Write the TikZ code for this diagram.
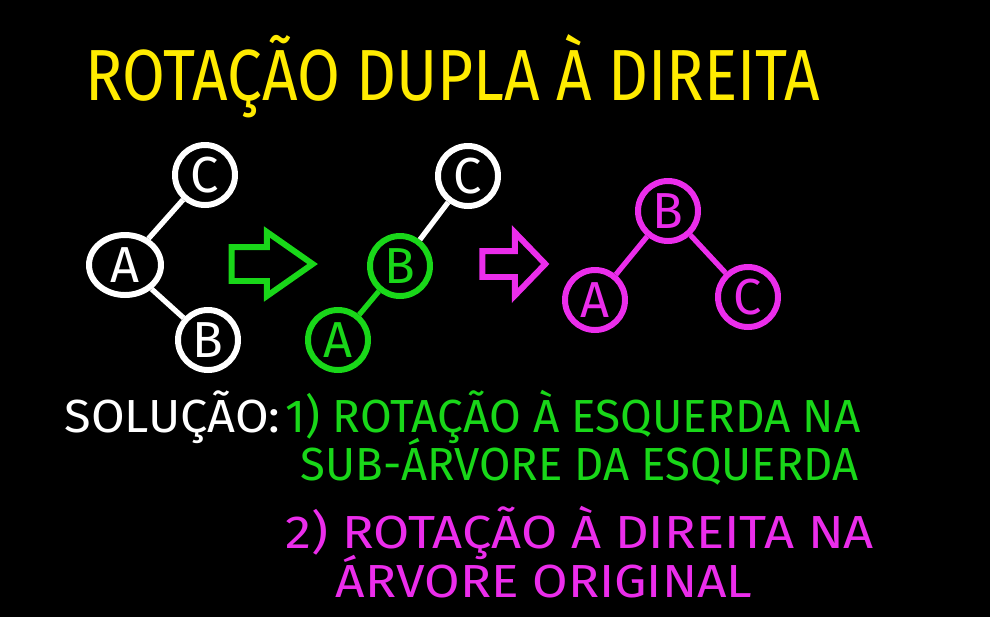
\documentclass[tikz,border=0pt]{standalone}
\usepackage{fontspec}
\setmainfont{Fira Sans}
\usetikzlibrary{positioning,shapes.geometric,shapes.arrows}
\definecolor{chalkyellow}{RGB}{255,235,0}
\definecolor{chalkgreen}{RGB}{25,215,25}
\definecolor{chalkpink}{RGB}{235,45,235}
\newcommand{\handtext}[2]{\scalebox{#1}[1]{#2}}
\tikzset{
  key/.style    = {circle, draw, line width=1.7pt, minimum size=0.6cm, inner sep=0pt, font=\Large},
  wkey/.style   = {key, draw=white, text=white},
  gkey/.style   = {key, draw=chalkgreen, text=chalkgreen},
  pkey/.style   = {key, draw=chalkpink, text=chalkpink},
  link/.style   = {line width=1.5pt},
  bigarrow/.style = {single arrow, draw, line width=1.7pt, inner xsep=0pt, single arrow tip angle=70},
  hand/.style   = {anchor=base west, inner sep=0pt, font=\fontsize{13.2}{16}\selectfont},
}
\begin{document}
\begin{tikzpicture}[x=1cm, y=-1cm]
  \fill[black] (0,0) rectangle (9.9,6.17);
  \useasboundingbox (0,0) rectangle (9.9,6.17);

  % title
  \node[hand, text=chalkyellow, font=\fontsize{20.6}{24}\selectfont] (title) at (0.85,1.00)
    {\handtext{0.857}{ROTAÇÃO DUPLA À DIREITA}};

  % original tree
  \node[wkey] (wc) at (2.05,1.75) {C};
  \node[wkey, ellipse, minimum width=0.72cm] (wa) at (1.25,2.65) {A};
  \node[wkey] (wb) at (2.08,3.40) {B};
  \draw[link, white] (wa) -- (wc);
  \draw[link, white] (wa) -- (wb);

  \node[bigarrow, draw=chalkgreen, minimum height=0.81cm, inner ysep=0.14cm,
        single arrow head extend=0.15cm] (step1) at (2.60,2.64) {};

  % after left rotation of the subtree
  \node[wkey] (gc) at (4.68,1.76) {C};
  \node[gkey] (gb) at (4.00,2.66) {B};
  \node[gkey] (ga) at (3.38,3.40) {A};
  \draw[link, white] (gb) -- (gc);
  \draw[link, chalkgreen] (gb) -- (ga);

  \node[bigarrow, draw=chalkpink, minimum height=0.63cm, inner ysep=0.1cm,
        single arrow head extend=0.185cm, single arrow tip angle=92] (step2) at (5.075,2.64) {};

  % after right rotation
  \node[pkey] (pb) at (6.68,2.11) {B};
  \node[pkey] (pa) at (5.95,3.00) {A};
  \node[pkey] (pc) at (7.48,2.97) {C};
  \draw[link, chalkpink] (pb) -- (pa);
  \draw[link, chalkpink] (pb) -- (pc);

  % solution text
  \node[hand, text=white] (sol) at (0.64,4.32) {\handtext{1.05}{SOLUÇÃO:}};
  \node[hand, text=chalkgreen] (s1a) at (2.85,4.32) {\handtext{0.99}{1) ROTAÇÃO À ESQUERDA NA}};
  \node[hand, text=chalkgreen] (s1b) at (3.00,4.80) {\handtext{0.98}{SUB-ÁRVORE DA ESQUERDA}};
  \node[hand, text=chalkpink] (s2a) at (2.85,5.48) {\handtext{1.13}{2) ROTAÇÃO À DIREITA NA}};
  \node[hand, text=chalkpink] (s2b) at (3.35,5.97) {\handtext{1.11}{ÁRVORE ORIGINAL}};
\end{tikzpicture}
\end{document}
